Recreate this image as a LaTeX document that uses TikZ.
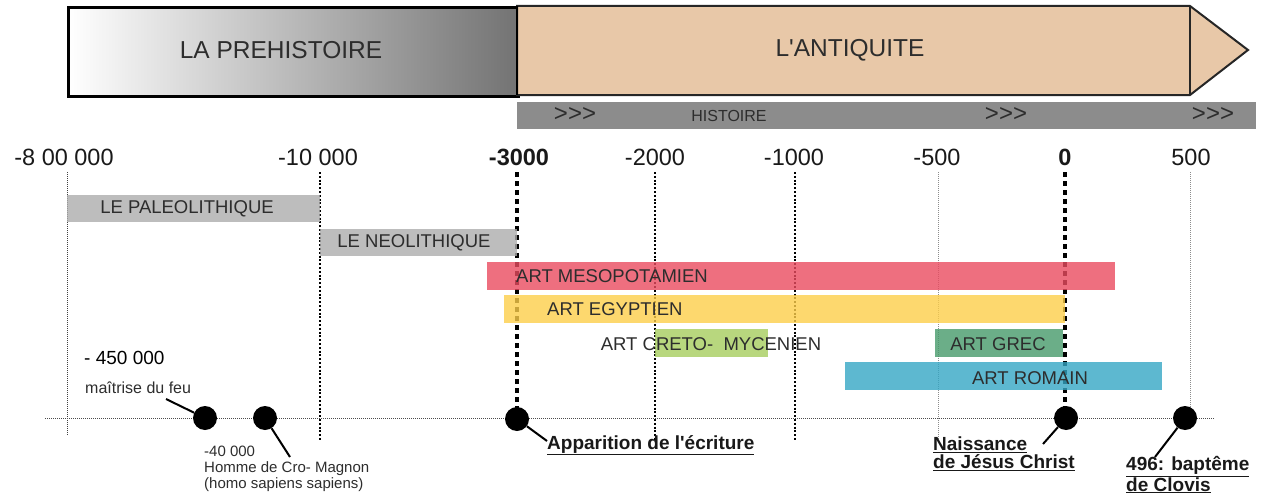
\documentclass[tikz,border=0pt]{standalone}
\usepackage{fontspec}
\setmainfont{Liberation Sans}
\newfontfamily\aposfont{Liberation Sans}[Ligatures=TeXOff]
\definecolor{antiq}{RGB}{232,200,168}
\definecolor{histgray}{RGB}{140,140,140}
\definecolor{paleo}{RGB}{172,172,172}
\definecolor{meso}{RGB}{234,75,95}
\definecolor{egypt}{RGB}{252,206,74}
\definecolor{creto}{RGB}{166,205,94}
\definecolor{grec}{RGB}{70,154,106}
\definecolor{romain}{RGB}{52,166,196}
\definecolor{txt}{RGB}{45,45,45}
\newcommand\fsz[2]{\fontsize{#1}{#2}\selectfont}
\newcommand\apos{{\aposfont '}}
\begin{document}
\begin{tikzpicture}[x=1pt,y=-1pt,
  toplbl/.style={text=txt, font=\fsz{24.5}{26}},
  axl/.style={text=black!90, font=\fsz{23.5}{25}},
  barlbl/.style={text=txt, font=\fsz{18.5}{20}, inner sep=0},
  bar/.style={fill opacity=0.8},
  thinv/.style={line width=0.9pt, dash pattern=on 1pt off 1pt, black!75},
  grayv/.style={line width=1pt, dash pattern=on 1pt off 1pt, black!45},
  medv/.style={line width=2.4pt, dash pattern=on 2pt off 1.8pt, black},
  thickv/.style={line width=4.2pt, dash pattern=on 5pt off 4pt, black},
  axisline/.style={line width=1pt, dash pattern=on 1pt off 1pt, black!70},
  dot/.style={circle, fill=black, minimum size=24pt, inner sep=0},
  conn/.style={line width=2pt, black},
  evt/.style={font=\fsz{19}{17.5}\bfseries, text=black!90, align=left, inner sep=0},
  note/.style={font=\fsz{15}{16}, text=txt, align=left, inner sep=0},
  chev/.style={text=txt, font=\fsz{24}{24}, inner sep=0}]
\useasboundingbox (0,0) rectangle (1271,495);
% top periods
\node[draw, line width=2.6pt, left color=white, right color=black!55, minimum width=450pt, minimum height=89pt, anchor=north west, inner sep=0] (prehist) at (67,6) {};
\node[toplbl] (lprehist) at (281,50) {LA PREHISTOIRE};
\filldraw[fill=antiq, draw=black!85, line width=2pt] (517,6) -- (1190,6) -- (1248,50) -- (1190,95) -- (517,95) -- cycle;
\draw[black!85, line width=1.5pt] (1190,6) -- (1190,95);
\draw[black, line width=2.6pt] (517,6) -- (517,95);
\node[toplbl] (lantiq) at (850,50) {L\apos ANTIQUITE};
% histoire bar
\fill[histgray] (517,102) rectangle (1256,129);
\node[chev] (h1) at (575,115) {>{}>{}>};
\node[text=txt, font=\fsz{16}{18}] (h2) at (729,116) {HISTOIRE};
\node[chev] (h3) at (1006,115) {>{}>{}>};
\node[chev] (h4) at (1213,115) {>{}>{}>};
% axis labels
\node[axl] (t1) at (64,157) {-8 00 000};
\node[axl] (t2) at (318,157) {-10 000};
\node[axl, font=\fsz{23.5}{25}\bfseries] (t3) at (519,157) {-3000};
\node[axl] (t4) at (655,157) {-2000};
\node[axl] (t5) at (794,157) {-1000};
\node[axl] (t6) at (937,157) {-500};
\node[axl, font=\fsz{23.5}{25}\bfseries] (t7) at (1065,157) {0};
\node[axl] (t8) at (1191,157) {500};
% vertical guides
\draw[thinv] (67,172) -- (67,436);
\draw[medv] (320,172) -- (320,440);
\draw[thickv] (517,172) -- (517,430);
\draw[medv] (655,172) -- (655,440);
\draw[medv] (795,172) -- (795,440);
\draw[grayv] (938,172) -- (938,440);
\draw[thickv] (1065,172) -- (1065,430);
\draw[grayv] (1190,172) -- (1190,430);
% horizontal axis
\draw[axisline] (45,418) -- (1215,418);
% bars
\fill[bar, paleo] (67,195) rectangle (320,222);
\node[barlbl] (lpaleo) at (187,209) {LE PALEOLITHIQUE};
\fill[bar, paleo] (320,229) rectangle (517,256);
\node[barlbl] (lneo) at (414,243) {LE NEOLITHIQUE};
\fill[bar, meso] (487,262) rectangle (1115,290);
\node[barlbl, anchor=west] (lmeso) at (516,276) {ART MESOPOTAMIEN};
\fill[bar, egypt] (504,295) rectangle (1065,323);
\node[barlbl, anchor=west] (legypt) at (547,309) {ART EGYPTIEN};
\fill[bar, creto] (655,329) rectangle (768,357);
\node[barlbl] (lcreto) at (711,344) {ART CRETO-\ \ MYCENIEN};
\fill[bar, grec] (935,329) rectangle (1063,357);
\node[barlbl] (lgrec) at (998,344) {ART GREC};
\fill[bar, romain] (845,362) rectangle (1162,390);
\node[barlbl] (lromain) at (1030,378) {ART ROMAIN};
% event labels
\node[note, anchor=west, font=\fsz{19}{20}, text=black] (l450) at (84,358) {- 450 000};
\node[note, anchor=west, font=\fsz{16}{18}] (lfeu) at (85,388) {maîtrise du feu};
\node[note, anchor=north west] (lcro) at (204,446) {-40 000\\Homme de Cro- Magnon\\(homo sapiens sapiens)};
\node[evt, anchor=west] (lapp) at (547,445) {\underline{Apparition de l\apos écriture}};
\node[evt, anchor=north west] (ljc) at (933,437) {\underline{Naissance}\\\underline{de Jésus Christ}};
\node[evt, anchor=north west] (lclo) at (1126,456) {\underline{496: baptême}\\\underline{de Clovis}};
% connectors
\coordinate (cfeu) at (166,399);
\coordinate (ccro) at (290,457);
\coordinate (capp) at (547,441);
\coordinate (cjc) at (1043,444);
\coordinate (cclo) at (1155,457);
\node[dot] (d1) at (205,418) {};
\node[dot] (d2) at (265,418) {};
\node[dot] (d3) at (517,419) {};
\node[dot] (d4) at (1066,418) {};
\node[dot] (d5) at (1185,418) {};
\draw[conn] (cfeu) -- (d1);
\draw[conn] (d2) -- (ccro);
\draw[conn] (d3) -- (capp);
\draw[conn] (d4) -- (cjc);
\draw[conn] (d5) -- (cclo);
\end{tikzpicture}
\end{document}
